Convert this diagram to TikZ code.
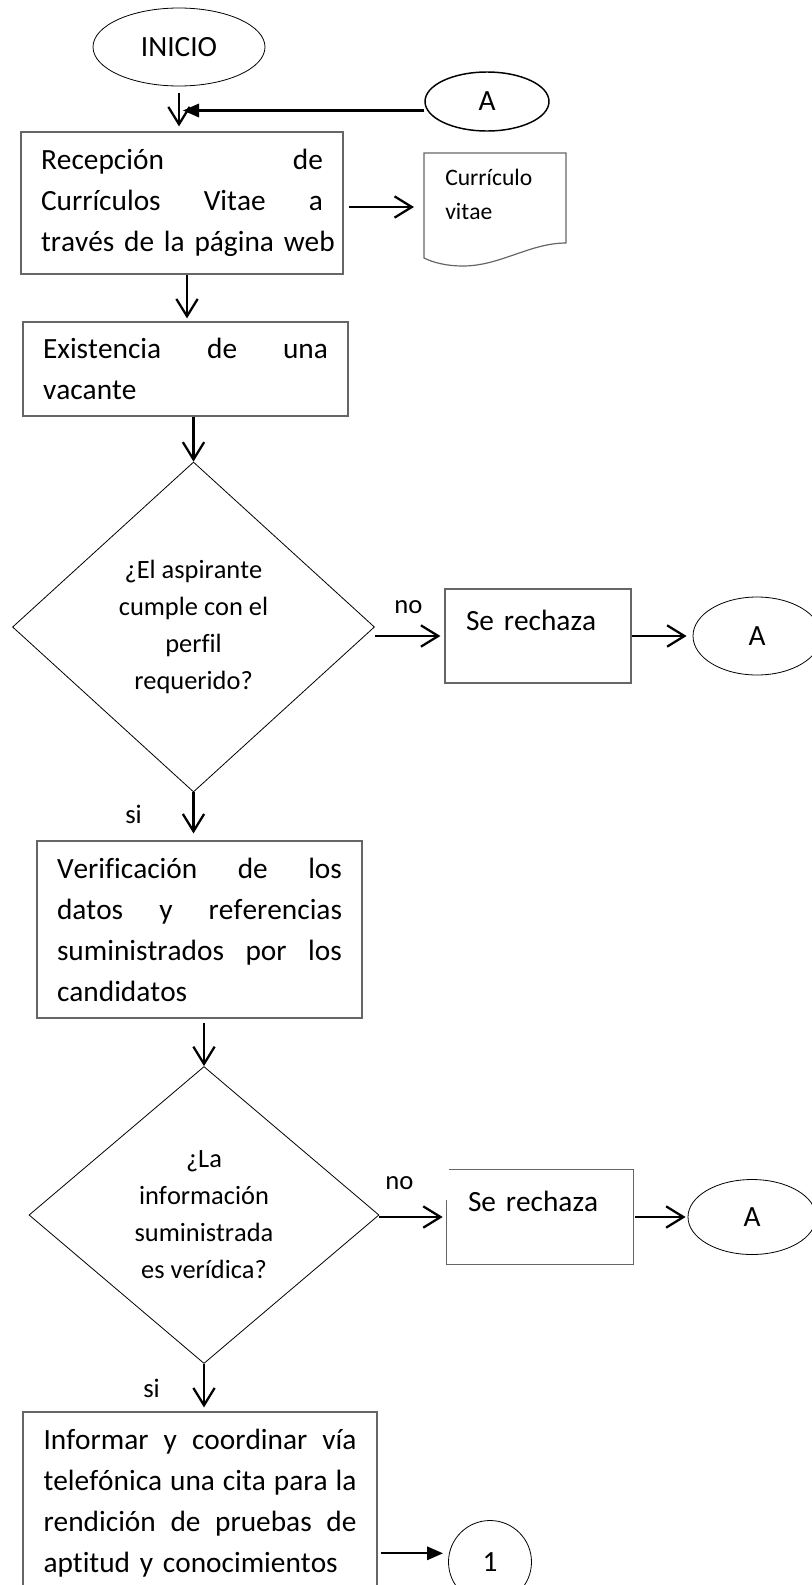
\documentclass[tikz,border=0pt]{standalone}
\usepackage{fontspec}
\setmainfont{Carlito}[Ligatures=NoCommon, Kerning=Off]
\usetikzlibrary{shapes.geometric,arrows.meta}

\begin{document}
\begin{tikzpicture}[x=0.75pt,y=-0.75pt,
    caja/.style={rectangle, draw=black!60, line width=0.9pt, inner sep=0pt, align=left,
      font=\fontsize{22pt}{30.75pt}\selectfont},
    rombo/.style={diamond, draw, line width=0.6pt, inner sep=0pt, align=center,
      font=\fontsize{19.8pt}{27.75pt}\selectfont},
    conector/.style={ellipse, draw, line width=0.6pt, inner sep=0pt,
      font=\fontsize{22pt}{26pt}\selectfont},
    rechazo/.style={rectangle, inner xsep=15.75pt, text width=108pt, minimum height=70.5pt,
      text height=15pt, text depth=24pt, align=left, font=\fontsize{22pt}{26pt}\selectfont},
    borde/.style={draw=black!60, line width=0.9pt},
    etiqueta/.style={anchor=base west, inner sep=0pt, font=\fontsize{20pt}{24pt}\selectfont},
    flecha/.style={-{Straight Barb[length=13pt,width=16pt]}, line width=1.7pt},
    flechallena/.style={-{Triangle[length=12pt,width=10pt]}, line width=1.7pt}]
  \useasboundingbox (0,0) rectangle (812,1585);
  \clip (0,0) rectangle (812,1585);

  % inicio y retorno A
  \node[conector, minimum width=129pt, minimum height=58.5pt] (i0) at (179,47) {INICIO};
  \node[conector, line width=1.1pt, minimum width=93pt, minimum height=44.25pt] (a0) at (487,101.5) {A};
  \node[caja, minimum width=241.5pt, minimum height=106.5pt, text width=211.5pt] (b1) at (182,203)
    {Recepción\hfill de\\ Currículos\hfill Vitae\hfill a\\ \mbox{través de la página web}};

  % documento
  \draw[borde] (424,153) -- (566,153) -- (566,243) .. controls (530,243) and (500,266) .. (463,266)
    .. controls (445,266) and (432,262) .. (424,258) -- cycle;
  \node[anchor=north west, inner sep=0pt, align=left, font=\fontsize{17.7pt}{25.5pt}\selectfont] (cv) at (445,169)
    {Currículo\\ vitae};
  \coordinate (cvw) at (424,207);

  \node[caja, minimum width=243.75pt, minimum height=70.5pt, text width=213.75pt] (b2) at (185.5,369)
    {Existencia\hfill de\hfill una\\ vacante};

  % primera decision
  \node[rombo, minimum width=271.5pt, minimum height=247.5pt] (d1) at (193.5,627)
    {¿El aspirante\\ cumple con el\\ perfil\\ requerido?};
  \node[rechazo, borde] (r1) at (538,636) {Se rechaza};
  \node[conector, minimum width=96pt, minimum height=58.5pt] (a1) at (757,636) {A};
  \node[etiqueta] (no1) at (394,613) {no};
  \node[etiqueta] (si1) at (125,823) {si};

  \node[caja, minimum width=243.75pt, minimum height=132.75pt, text width=213.75pt] (b3) at (199.5,929.5)
    {Verificación\hfill de\hfill los\\ datos\hfill y\hfill referencias\\ suministrados\hfill por\hfill los\\ candidatos};

  % segunda decision
  \node[rombo, minimum width=262.5pt, minimum height=222.75pt] (d2) at (204,1215)
    {¿La\\ información\\ suministrada\\ es verídica?};
  \node[rechazo] (r2) at (540,1217) {Se rechaza};
  \draw[borde] ([yshift=-22.5pt]r2.north west) -- (r2.south west) -- (r2.south east) -- (r2.north east)
    -- ([xshift=1.5pt]r2.north west);
  \node[conector, minimum width=96pt, minimum height=56.25pt] (a2) at (752,1217) {A};
  \node[etiqueta] (no2) at (385,1189) {no};
  \node[etiqueta] (si2) at (143,1397) {si};

  \node[caja, minimum width=265.5pt, minimum height=136.5pt, text width=234.75pt] (b4) at (200,1503)
    {Informar\hfill y\hfill coordinar\hfill vía\\ telefónica\hfill una\hfill cita\hfill para\hfill la\\
     rendición\hfill de\hfill pruebas\hfill de\\ \mbox{aptitud y conocimientos}};
  \node[conector, circle, minimum size=62.25pt] (c1) at (490,1562) {1};

  % flechas
  \draw[flecha, shorten <=5.25pt, shorten >=3.75pt] (i0.south) -- (i0.south |- b1.north);
  \coordinate (aret) at ([yshift=-6.75pt]a0.west);
  \draw[flechallena, shorten >=3pt] (aret) -- (aret -| i0.south);
  \draw[flecha, shorten <=3.75pt, shorten >=7.5pt] (cvw -| b1.east) -- (cvw);
  \coordinate (k1) at ([xshift=3.75pt]b1.south);
  \draw[flecha, shorten >=2.25pt] (k1) -- (k1 |- b2.north);
  \draw[flecha] (d1.north |- b2.south) -- (d1.north);
  \draw[flecha, shorten >=3pt] (r1.west -| d1.east) -- (r1.west);
  \draw[flecha, shorten >=4.5pt] (r1.east) -- (a1.west);
  \draw[flecha, shorten >=5.25pt] (d1.south) -- (d1.south |- b3.north);
  \draw[flecha, shorten <=3pt] (d2.north |- b3.south) -- (d2.north);
  \draw[flecha, shorten >=3pt] (r2.west -| d2.east) -- (r2.west);
  \draw[flecha, shorten <=1.5pt, shorten >=1.5pt] (r2.east) -- (a2.west);
  \draw[flecha, shorten >=3pt] (d2.south) -- (d2.south |- b4.north);
  \draw[flechallena, shorten <=2.25pt, shorten >=4.5pt] (c1.168 -| b4.east) -- (c1.168);
\end{tikzpicture}
\end{document}
